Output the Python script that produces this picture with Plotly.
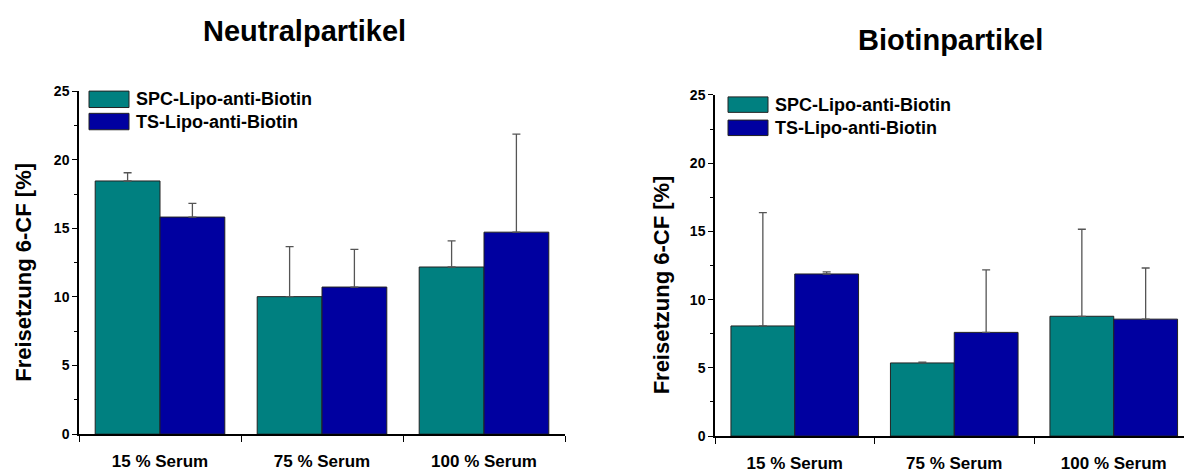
import plotly.graph_objects as go

categories = ["15 % Serum", "75 % Serum", "100 % Serum"]
series_names = ["SPC-Lipo-anti-Biotin", "TS-Lipo-anti-Biotin"]

# Neutralpartikel
neutral_spc = [18.45, 10.02, 12.18]
neutral_spc_err = [0.6, 3.65, 1.9]
neutral_ts = [15.82, 10.72, 14.72]
neutral_ts_err = [1.0, 2.75, 7.15]

# Biotinpartikel
biotin_spc = [8.07, 5.36, 8.78]
biotin_spc_err = [8.3, 0.05, 6.38]
biotin_ts = [11.88, 7.6, 8.57]
biotin_ts_err = [0.15, 4.58, 3.75]

titles = ["Neutralpartikel", "Biotinpartikel"]
y_title = "Freisetzung 6-CF [%]"
y_ticks = [0, 5, 10, 15, 20, 25]

colors = ["#008080", "#0000A0"]
FONT = "Arial, 'Liberation Sans', sans-serif"
W, H = 1184, 475

xpos = list(range(len(categories)))

fig = go.Figure()

def add_bars(vals, errs, name, color, xa, ya):
    fig.add_trace(go.Bar(
        x=xpos, y=vals, name=name, xaxis=xa, yaxis=ya, showlegend=False,
        marker=dict(color=color, line=dict(color="#222222", width=1)),
        error_y=dict(type="data", array=errs, arrayminus=[0] * len(errs),
                     symmetric=False, color="#555555", thickness=1.3, width=4),
        offsetgroup=name,
    ))

add_bars(neutral_spc, neutral_spc_err, series_names[0], colors[0], "x", "y")
add_bars(neutral_ts, neutral_ts_err, series_names[1], colors[1], "x", "y")
add_bars(biotin_spc, biotin_spc_err, series_names[0], colors[0], "x2", "y2")
add_bars(biotin_ts, biotin_ts_err, series_names[1], colors[1], "x2", "y2")

# plot-area pixel geometry
L = dict(x0=79, x1=565, y0=86, y1=441)
R = dict(x0=715, x1=1184, y0=90, y1=443)
R_xmax = (R["x1"] - R["x0"]) / 159.5 - 0.5

def px(x):
    return x / W

def py(y):
    return 1 - y / H

def xaxis(domain, rng):
    return dict(
        domain=domain, range=rng, showline=True, linecolor="black", linewidth=1.5,
        tickvals=xpos, ticktext=categories, ticks="outside", ticklen=11,
        tickcolor="rgba(0,0,0,0)",
        tickfont=dict(family=FONT, size=17, color="black", weight="bold"),
        minor=dict(tickvals=[-0.5, 0.5, 1.5, 2.5], ticks="outside", ticklen=6,
                   tickcolor="black", tickwidth=1.2),
        showgrid=False, zeroline=False, fixedrange=True,
    )

def yaxis(domain, anchor):
    return dict(
        domain=domain, range=[0, 25], anchor=anchor, showline=True,
        linecolor="black", linewidth=1.5, tickvals=y_ticks, ticks="outside",
        ticklen=5, tickwidth=1.2, tickcolor="black",
        tickfont=dict(family=FONT, size=14, color="black", weight="bold"),
        minor=dict(dtick=2.5, ticks="outside", ticklen=3, tickcolor="black", tickwidth=1),
        showgrid=False, zeroline=False, fixedrange=True,
    )

fig.update_layout(
    width=W, height=H, margin=dict(l=0, r=0, t=0, b=0),
    paper_bgcolor="white", plot_bgcolor="white",
    barmode="group", bargap=0.2, bargroupgap=0,
    showlegend=False,
    xaxis=dict(xaxis([px(L["x0"]), px(L["x1"])], [-0.5, 2.5]), anchor="y"),
    yaxis=yaxis([py(L["y1"]), py(L["y0"])], "x"),
    xaxis2=dict(xaxis([px(R["x0"]), 1.0], [-0.5, R_xmax]), anchor="y2"),
    yaxis2=yaxis([py(R["y1"]), py(R["y0"])], "x2"),
)

annotations = []
shapes = []

# titles
annotations.append(dict(text=titles[0], x=px(304), y=py(24), xref="paper", yref="paper",
                        showarrow=False, xanchor="center", yanchor="middle",
                        font=dict(family=FONT, size=29, color="black", weight="bold")))
annotations.append(dict(text=titles[1], x=px(950), y=py(33), xref="paper", yref="paper",
                        showarrow=False, xanchor="center", yanchor="middle",
                        font=dict(family=FONT, size=29, color="black", weight="bold")))
# y titles
for xc, yc in [(24, 274), (661, 286)]:
    annotations.append(dict(text=y_title, x=px(xc), y=py(yc), xref="paper", yref="paper",
                            showarrow=False, textangle=-90, xanchor="center", yanchor="middle",
                            font=dict(family=FONT, size=22, color="black", weight="bold")))

# legends (swatches + text)
legend_pos = [
    dict(sx0=89, sx1=129, rows=[(86, 103), (109, 126)], tx=134),
    dict(sx0=728, sx1=768, rows=[(92, 108), (116, 132)], tx=773),
]
for lp in legend_pos:
    for i, (ya, yb) in enumerate(lp["rows"]):
        shapes.append(dict(type="rect", xref="paper", yref="paper",
                           x0=px(lp["sx0"]), x1=px(lp["sx1"]), y0=py(yb), y1=py(ya),
                           fillcolor=colors[i], line=dict(color="#222222", width=1)))
        annotations.append(dict(text=series_names[i], x=px(lp["tx"]), y=py((ya + yb) / 2),
                                xref="paper", yref="paper", showarrow=False,
                                xanchor="left", yanchor="middle",
                                font=dict(family=FONT, size=18, color="black", weight="bold")))

fig.update_layout(annotations=annotations, shapes=shapes)
fig.write_html("out.html")
